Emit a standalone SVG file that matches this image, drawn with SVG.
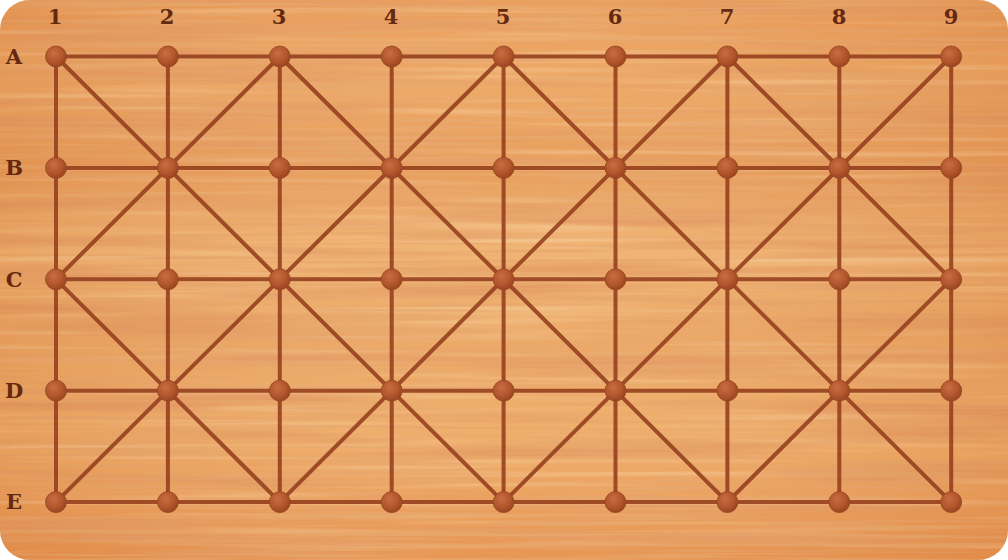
<svg xmlns="http://www.w3.org/2000/svg" width="1008" height="560" viewBox="0 0 1008 560">
<defs>
<linearGradient id="wood" x1="0" y1="0" x2="0" y2="1">
<stop offset="0" stop-color="#e99a55"/>
<stop offset="0.15" stop-color="#eda762"/>
<stop offset="0.3" stop-color="#e79b57"/>
<stop offset="0.45" stop-color="#f0b370"/>
<stop offset="0.6" stop-color="#eba662"/>
<stop offset="0.78" stop-color="#efad68"/>
<stop offset="1" stop-color="#e6914c"/>
</linearGradient>
<linearGradient id="sideshade" x1="0" y1="0" x2="1" y2="0">
<stop offset="0" stop-color="#c2602a" stop-opacity="0.15"/>
<stop offset="0.5" stop-color="#ffffff" stop-opacity="0.03"/>
<stop offset="1" stop-color="#c2602a" stop-opacity="0.15"/>
</linearGradient>
<filter id="grain" x="0" y="0" width="100%" height="100%">
<feTurbulence type="fractalNoise" baseFrequency="0.0025 0.06" numOctaves="3" seed="7" result="n"/>
<feColorMatrix in="n" type="matrix" values="0 0 0 0 0.78  0 0 0 0 0.33  0 0 0 0 0.12  4 0 0 0 -1.9" result="c"/>
<feComposite in="c" in2="SourceGraphic" operator="in"/>
</filter>
<filter id="grain2" x="0" y="0" width="100%" height="100%">
<feTurbulence type="fractalNoise" baseFrequency="0.004 0.3" numOctaves="2" seed="3" result="n"/>
<feColorMatrix in="n" type="matrix" values="0 0 0 0 0.80  0 0 0 0 0.38  0 0 0 0 0.14  4.4 0 0 0 -2.1" result="c"/>
<feComposite in="c" in2="SourceGraphic" operator="in"/>
</filter>
<filter id="grain3" x="0" y="0" width="100%" height="100%">
<feTurbulence type="fractalNoise" baseFrequency="0.003 0.14" numOctaves="2" seed="11" result="n"/>
<feColorMatrix in="n" type="matrix" values="0 0 0 0 0.98  0 0 0 0 0.76  0 0 0 0 0.48  3.2 0 0 0 -1.6" result="c"/>
<feComposite in="c" in2="SourceGraphic" operator="in"/>
</filter>
<radialGradient id="peg" cx="0.4" cy="0.35" r="0.7">
<stop offset="0" stop-color="#c96e40"/>
<stop offset="0.6" stop-color="#b0552d"/>
<stop offset="1" stop-color="#964220"/>
</radialGradient>
<clipPath id="board"><rect x="0" y="0" width="1008" height="560" rx="30" ry="30"/></clipPath>
</defs>
<style>
.ln{stroke:#933d1c;stroke-width:4;stroke-linecap:round;fill:none;opacity:0.88}
.lns{stroke:#f5c08a;stroke-width:2;fill:none;opacity:0.3}
.pg{fill:url(#peg);stroke:#984420;stroke-width:0.8}
.lbl{font-family:"DejaVu Serif","Liberation Serif",serif;font-weight:bold;font-size:21px;fill:#642910;text-anchor:middle}
</style>
<g id="background" clip-path="url(#board)">
<rect width="1008" height="560" fill="url(#wood)"/>
<rect width="1008" height="560" fill="#fff" filter="url(#grain3)" opacity="0.35"/>
<rect width="1008" height="560" fill="#fff" filter="url(#grain)" opacity="0.95"/>
<rect width="1008" height="560" fill="#fff" filter="url(#grain2)" opacity="0.85"/>
<rect width="1008" height="560" fill="url(#sideshade)"/>
</g>
<g id="connectors">
<g transform="translate(0,2.2)" class="lns">
<path d="M56,56.5H951.2M56,167.9H951.2M56,279.3H951.2M56,390.7H951.2M56,502.1H951.2"/>
</g>
<path class="ln" d="M56,56.5H951.2M56,167.9H951.2M56,279.3H951.2M56,390.7H951.2M56,502.1H951.2"/>
<path class="ln" d="M56,56.5V502.1M167.9,56.5V502.1M279.8,56.5V502.1M391.7,56.5V502.1M503.6,56.5V502.1M615.5,56.5V502.1M727.4,56.5V502.1M839.3,56.5V502.1M951.2,56.5V502.1"/>
<path class="ln" d="M56,279.3L279.8,502.1M56,56.5L503.6,502.1M279.8,56.5L727.4,502.1M503.6,56.5L951.2,502.1M727.4,56.5L951.2,279.3"/>
<path class="ln" d="M279.8,56.5L56,279.3M503.6,56.5L56,502.1M727.4,56.5L279.8,502.1M951.2,56.5L503.6,502.1M951.2,279.3L727.4,502.1"/>
</g>
<g id="nodes">
<g id="A1"><circle class="pg" cx="56" cy="56.5" r="10.5"/></g>
<g id="A2"><circle class="pg" cx="167.9" cy="56.5" r="10.5"/></g>
<g id="A3"><circle class="pg" cx="279.8" cy="56.5" r="10.5"/></g>
<g id="A4"><circle class="pg" cx="391.7" cy="56.5" r="10.5"/></g>
<g id="A5"><circle class="pg" cx="503.6" cy="56.5" r="10.5"/></g>
<g id="A6"><circle class="pg" cx="615.5" cy="56.5" r="10.5"/></g>
<g id="A7"><circle class="pg" cx="727.4" cy="56.5" r="10.5"/></g>
<g id="A8"><circle class="pg" cx="839.3" cy="56.5" r="10.5"/></g>
<g id="A9"><circle class="pg" cx="951.2" cy="56.5" r="10.5"/></g>
<g id="B1"><circle class="pg" cx="56" cy="167.9" r="10.5"/></g>
<g id="B2"><circle class="pg" cx="167.9" cy="167.9" r="10.5"/></g>
<g id="B3"><circle class="pg" cx="279.8" cy="167.9" r="10.5"/></g>
<g id="B4"><circle class="pg" cx="391.7" cy="167.9" r="10.5"/></g>
<g id="B5"><circle class="pg" cx="503.6" cy="167.9" r="10.5"/></g>
<g id="B6"><circle class="pg" cx="615.5" cy="167.9" r="10.5"/></g>
<g id="B7"><circle class="pg" cx="727.4" cy="167.9" r="10.5"/></g>
<g id="B8"><circle class="pg" cx="839.3" cy="167.9" r="10.5"/></g>
<g id="B9"><circle class="pg" cx="951.2" cy="167.9" r="10.5"/></g>
<g id="C1"><circle class="pg" cx="56" cy="279.3" r="10.5"/></g>
<g id="C2"><circle class="pg" cx="167.9" cy="279.3" r="10.5"/></g>
<g id="C3"><circle class="pg" cx="279.8" cy="279.3" r="10.5"/></g>
<g id="C4"><circle class="pg" cx="391.7" cy="279.3" r="10.5"/></g>
<g id="C5"><circle class="pg" cx="503.6" cy="279.3" r="10.5"/></g>
<g id="C6"><circle class="pg" cx="615.5" cy="279.3" r="10.5"/></g>
<g id="C7"><circle class="pg" cx="727.4" cy="279.3" r="10.5"/></g>
<g id="C8"><circle class="pg" cx="839.3" cy="279.3" r="10.5"/></g>
<g id="C9"><circle class="pg" cx="951.2" cy="279.3" r="10.5"/></g>
<g id="D1"><circle class="pg" cx="56" cy="390.7" r="10.5"/></g>
<g id="D2"><circle class="pg" cx="167.9" cy="390.7" r="10.5"/></g>
<g id="D3"><circle class="pg" cx="279.8" cy="390.7" r="10.5"/></g>
<g id="D4"><circle class="pg" cx="391.7" cy="390.7" r="10.5"/></g>
<g id="D5"><circle class="pg" cx="503.6" cy="390.7" r="10.5"/></g>
<g id="D6"><circle class="pg" cx="615.5" cy="390.7" r="10.5"/></g>
<g id="D7"><circle class="pg" cx="727.4" cy="390.7" r="10.5"/></g>
<g id="D8"><circle class="pg" cx="839.3" cy="390.7" r="10.5"/></g>
<g id="D9"><circle class="pg" cx="951.2" cy="390.7" r="10.5"/></g>
<g id="E1"><circle class="pg" cx="56" cy="502.1" r="10.5"/></g>
<g id="E2"><circle class="pg" cx="167.9" cy="502.1" r="10.5"/></g>
<g id="E3"><circle class="pg" cx="279.8" cy="502.1" r="10.5"/></g>
<g id="E4"><circle class="pg" cx="391.7" cy="502.1" r="10.5"/></g>
<g id="E5"><circle class="pg" cx="503.6" cy="502.1" r="10.5"/></g>
<g id="E6"><circle class="pg" cx="615.5" cy="502.1" r="10.5"/></g>
<g id="E7"><circle class="pg" cx="727.4" cy="502.1" r="10.5"/></g>
<g id="E8"><circle class="pg" cx="839.3" cy="502.1" r="10.5"/></g>
<g id="E9"><circle class="pg" cx="951.2" cy="502.1" r="10.5"/></g>
</g>
<g id="labels">
<text class="lbl" x="55" y="24">1</text>
<text class="lbl" x="167" y="24">2</text>
<text class="lbl" x="279" y="24">3</text>
<text class="lbl" x="391" y="24">4</text>
<text class="lbl" x="503" y="24">5</text>
<text class="lbl" x="615" y="24">6</text>
<text class="lbl" x="727" y="24">7</text>
<text class="lbl" x="839" y="24">8</text>
<text class="lbl" x="951" y="24">9</text>
<text class="lbl" x="14" y="64">A</text>
<text class="lbl" x="14" y="175">B</text>
<text class="lbl" x="14" y="287">C</text>
<text class="lbl" x="14" y="398">D</text>
<text class="lbl" x="14" y="509">E</text>
</g>
</svg>
